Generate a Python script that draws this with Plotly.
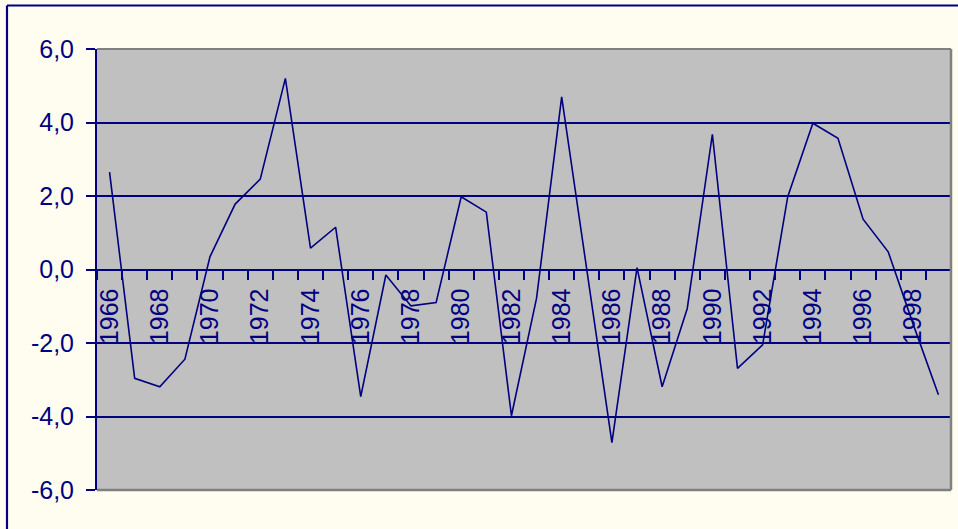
import plotly.graph_objects as go

# Annual values, 1966-1999
years = [str(y) for y in range(1966, 2000)]
values = [2.65, -2.96, -3.19, -2.44, 0.35, 1.78, 2.46, 5.20, 0.58, 1.15,
          -3.46, -0.15, -0.99, -0.90, 1.98, 1.56, -3.98, -0.78, 4.70, 0.00,
          -4.71, 0.05, -3.19, -1.06, 3.68, -2.69, -2.05, 1.98, 3.98, 3.57,
          1.37, 0.48, -1.50, -3.41]

# Every second year carries a label
x_ticktext = [y if int(y) % 2 == 0 else "" for y in years]

y_tickvals = [-6, -4, -2, 0, 2, 4, 6]
y_ticktext = ["-6,0", "-4,0", "-2,0", "0,0", "2,0", "4,0", "6,0"]

NAVY = "#000080"
CREAM = "#FFFDF0"
FONT = "Liberation Sans, Arial, sans-serif"

W, H = 958, 529
L, R, T, B = 97, 7, 49, 39
pw, ph = W - L - R, H - T - B

fig = go.Figure()
fig.add_trace(go.Scatter(
    x=years, y=values, mode="lines",
    line=dict(color=NAVY, width=1.6),
    hoverinfo="x+y", showlegend=False,
))

# Outer chart frame (left and top edges visible)
fx = (7 - L) / pw
fy = (H - B - 5.5) / ph
shapes = [
    dict(type="line", xref="paper", yref="paper", x0=fx, x1=fx, y0=-0.3, y1=fy,
         line=dict(color=NAVY, width=2.2), layer="above"),
    dict(type="line", xref="paper", yref="paper", x0=fx, x1=1.2, y0=fy, y1=fy,
         line=dict(color=NAVY, width=2.2), layer="above"),
    # Grey border of the plot area (top, right, bottom)
    dict(type="line", xref="paper", yref="paper", x0=0, x1=1, y0=1, y1=1,
         line=dict(color="#808080", width=2), layer="above"),
    dict(type="line", xref="paper", yref="paper", x0=1, x1=1, y0=0, y1=1,
         line=dict(color="#808080", width=2.5), layer="above"),
    dict(type="line", xref="paper", yref="paper", x0=0, x1=1, y0=0, y1=0,
         line=dict(color="#808080", width=2.5), layer="above"),
]

fig.update_layout(
    width=W, height=H,
    margin=dict(l=L, r=R, t=T, b=B, pad=0),
    paper_bgcolor=CREAM,
    plot_bgcolor="#C0C0C0",
    font=dict(family=FONT, size=25, color=NAVY),
    shapes=shapes,
    xaxis=dict(
        type="category",
        range=[-0.5, len(years) - 0.5],
        anchor="free", position=0.5,
        tickmode="array", tickvals=years, ticktext=x_ticktext,
        tickson="boundaries",
        ticks="outside", ticklen=9, tickwidth=2, tickcolor=NAVY,
        tickangle=-90, ticklabelstandoff=8,
        tickfont=dict(family=FONT, size=25, color=NAVY),
        showline=True, linecolor=NAVY, linewidth=2,
        showgrid=False, zeroline=False,
        fixedrange=True,
    ),
    yaxis=dict(
        range=[-6, 6],
        tickmode="array", tickvals=y_tickvals, ticktext=y_ticktext,
        ticks="outside", ticklen=9, tickwidth=2, tickcolor=NAVY,
        ticklabelstandoff=7,
        tickfont=dict(family=FONT, size=25, color=NAVY),
        showline=True, linecolor=NAVY, linewidth=2,
        showgrid=True, gridcolor=NAVY, gridwidth=2,
        zeroline=False,
        fixedrange=True,
    ),
)

fig.write_html("out.html")
